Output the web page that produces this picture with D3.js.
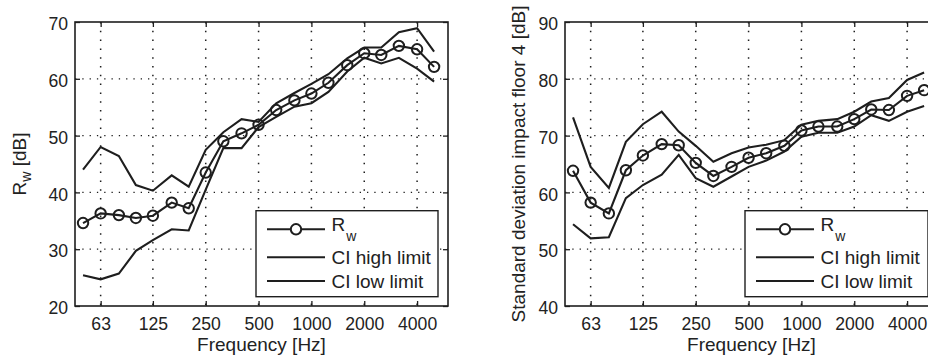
<!DOCTYPE html>
<html lang="en">
<head>
<script src="https://d3js.org/d3.v7.min.js"></script>
<style>
  body { margin: 0; background: #fff; }
  svg text { font-family: 'Liberation Sans', Arial, sans-serif; fill: #222; }
</style>
</head>
<body>
<script>
var width = 928, height = 359;

// third-octave bands
var freqs = [50, 63, 80, 100, 125, 160, 200, 250, 315, 400, 500, 630, 800, 1000, 1250, 1600, 2000, 2500, 3150, 4000, 5000];
var freqTicks = [63, 125, 250, 500, 1000, 2000, 4000];

// left panel: Rw
var rwMean = [34.6, 36.3, 36.0, 35.5, 35.9, 38.2, 37.2, 43.5, 49.0, 50.4, 51.9, 54.5, 56.2, 57.4, 59.3, 62.4, 64.5, 64.2, 65.8, 65.2, 62.1];
var rwHigh = [44.0, 48.0, 46.4, 41.3, 40.3, 43.0, 41.0, 47.5, 50.6, 52.9, 52.4, 55.7, 57.5, 59.1, 60.8, 63.6, 65.5, 65.5, 68.2, 68.9, 64.8];
var rwLow  = [25.4, 24.7, 25.7, 29.7, 31.6, 33.5, 33.3, 40.5, 47.8, 47.8, 51.5, 53.3, 55.1, 55.7, 57.7, 61.3, 63.7, 62.7, 63.7, 61.8, 59.5];
var rwTicks = [20, 30, 40, 50, 60, 70];

// right panel: impact floor 4
var sdMean = [63.8, 58.2, 56.3, 63.9, 66.5, 68.5, 68.3, 65.2, 62.9, 64.5, 66.1, 66.9, 68.2, 70.9, 71.6, 71.6, 72.9, 74.6, 74.5, 77.0, 78.0];
var sdHigh = [73.2, 64.5, 60.8, 68.9, 72.0, 74.2, 70.7, 68.2, 65.4, 66.9, 67.9, 68.4, 69.2, 71.9, 72.6, 72.9, 74.2, 76.0, 76.6, 79.8, 81.1];
var sdLow  = [54.4, 51.9, 52.1, 59.0, 61.3, 63.1, 66.6, 62.5, 61.0, 62.8, 64.5, 65.6, 67.2, 69.8, 70.5, 70.5, 71.6, 73.6, 72.6, 74.2, 75.2];
var sdTicks = [40, 50, 60, 70, 80, 90];

var legendNames = ['R', 'CI high limit', 'CI low limit'];

var ink = '#1e1e1e';
var svg = d3.select('body').append('svg').attr('width', width).attr('height', height);

function drawPanel(p) {
    var w = 373, h = 284;
    var g = svg.append('g').attr('transform', 'translate(' + p.left + ',' + p.top + ')');

    var x = d3.scaleLog().domain([45, 6000]).range([0, w]);
    var y = d3.scaleLinear().domain([p.ticks[0], p.ticks[p.ticks.length - 1]]).range([h, 0]);

    // dotted grid
    g.selectAll('.vgrid').data(freqTicks).join('line')
        .attr('x1', d => x(d)).attr('x2', d => x(d))
        .attr('y1', 0).attr('y2', h)
        .attr('stroke', ink).attr('stroke-width', 1.5)
        .attr('stroke-dasharray', '1.5,7.3');
    g.selectAll('.hgrid').data(p.ticks.slice(1, -1)).join('line')
        .attr('x1', 0).attr('x2', w)
        .attr('y1', d => y(d)).attr('y2', d => y(d))
        .attr('stroke', ink).attr('stroke-width', 1.3)
        .attr('stroke-dasharray', '1.3,6');

    // axes
    var xAxis = g.append('g').attr('transform', 'translate(0,' + h + ')')
        .call(d3.axisBottom(x).tickValues(freqTicks).tickFormat(d3.format('d'))
            .tickSizeInner(-5).tickSizeOuter(0).tickPadding(11.5));
    var xTop = g.append('g')
        .call(d3.axisTop(x).tickValues(freqTicks).tickFormat('').tickSizeInner(-5).tickSizeOuter(0));
    var yAxis = g.append('g')
        .call(d3.axisLeft(y).tickValues(p.ticks).tickSizeInner(-5).tickSizeOuter(0).tickPadding(7));
    var yRight = g.append('g').attr('transform', 'translate(' + w + ',0)')
        .call(d3.axisRight(y).tickValues(p.ticks).tickFormat('').tickSizeInner(-5).tickSizeOuter(0));
    [xAxis, xTop, yAxis, yRight].forEach(function(a) {
        a.select('.domain').remove();
        a.selectAll('line').attr('stroke', ink).attr('stroke-width', 1.3);
        a.selectAll('text').attr('font-size', 17.6).attr('fill', ink)
            .attr('font-family', "'Liberation Sans', Arial, sans-serif");
    });
    yAxis.selectAll('text').attr('dy', '0.44em');

    g.append('rect').attr('width', w).attr('height', h)
        .attr('fill', 'none').attr('stroke', ink).attr('stroke-width', 1.6);

    // series
    var line = d3.line().x((d, i) => x(freqs[i])).y(d => y(d));
    [p.high, p.low, p.mean].forEach(function(s) {
        g.append('path').datum(s).attr('d', line)
            .attr('fill', 'none').attr('stroke', ink).attr('stroke-width', 2.1);
    });
    g.selectAll('.dot').data(p.mean).join('circle')
        .attr('cx', (d, i) => x(freqs[i])).attr('cy', d => y(d)).attr('r', 5.2)
        .attr('fill', 'none').attr('stroke', ink).attr('stroke-width', 2);

    // axis labels
    g.append('text').attr('x', w / 2).attr('y', h + 45)
        .attr('text-anchor', 'middle').attr('font-size', 19).text('Frequency [Hz]');
    var yl = g.append('text').attr('transform', 'translate(' + p.ylabX + ',' + (h / 2) + ') rotate(-90)')
        .attr('text-anchor', 'middle').attr('font-size', 19);
    p.ylabel(yl);

    // legend
    var lg = g.append('g').attr('transform', 'translate(' + p.legX + ',' + (210.7 - p.top) + ')');
    lg.append('rect').attr('width', p.legW).attr('height', 86)
        .attr('fill', '#fff').attr('stroke', ink).attr('stroke-width', 1.4);
    var rows = [18.6, 46.6, 70.3];
    legendNames.forEach(function(name, i) {
        lg.append('line').attr('x1', 11).attr('x2', 69).attr('y1', rows[i]).attr('y2', rows[i])
            .attr('stroke', ink).attr('stroke-width', 2.1);
        var t = lg.append('text').attr('x', 75.5).attr('y', rows[i] + 7).attr('font-size', 19).text(name);
        if (i === 0) {
            lg.append('circle').attr('cx', 40).attr('cy', rows[i]).attr('r', 5.2)
                .attr('fill', '#fff').attr('stroke', ink).attr('stroke-width', 2);
            t.attr('y', rows[i] + 2);
            t.append('tspan').attr('font-size', 14).attr('dy', 10).attr('dx', 1).text('w');
        }
    });
}

drawPanel({
    left: 75, top: 22, ticks: rwTicks, mean: rwMean, high: rwHigh, low: rwLow,
    ylabX: -49.5, legX: 181, legW: 182,
    ylabel: function(t) {
        t.append('tspan').text('R');
        t.append('tspan').attr('font-size', 14).attr('dy', 5).text('w');
        t.append('tspan').attr('dy', -5).text(' [dB]');
    }
});

drawPanel({
    left: 565, top: 22, ticks: sdTicks, mean: sdMean, high: sdHigh, low: sdLow,
    ylabX: -40, legX: 180, legW: 183,
    ylabel: function(t) { t.text('Standard deviation impact floor 4 [dB]'); }
});
</script>
</body>
</html>
